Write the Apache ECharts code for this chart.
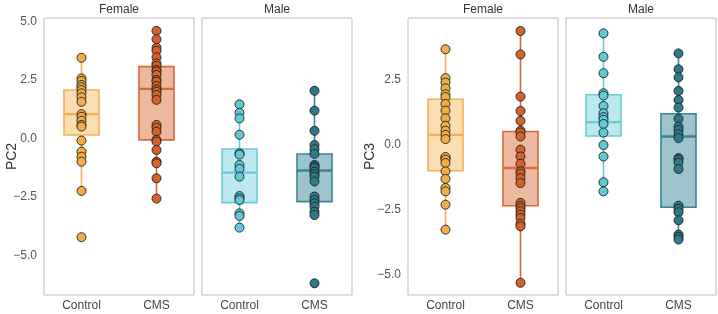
<!DOCTYPE html>
<html>
<head>
<meta charset="utf-8">
<script src="https://cdn.jsdelivr.net/npm/echarts@6/dist/echarts.min.js"></script>
<style>
  html, body { margin: 0; padding: 0; background: #fff; }
  #chart { width: 718px; height: 314px; }
</style>
</head>
<body>
<div id="chart"></div>
<script>
var categories = ['Control', 'CMS'];
var facets = ['Female', 'Male', 'Female', 'Male'];
var yTicks = [-5, -2.5, 0, 2.5, 5];

// PC2 points
var pc2FemaleControl = [3.44, 2.56, 2.45, 2.28, 2.18, 2.06, 1.92, 1.75, 1.56, 1.03, 0.92, 0.75, 0.57, 0.50, -0.10, -0.57, -0.79, -1.0, -2.25, -4.23];
var pc2FemaleCMS = [4.59, 4.23, 3.87, 3.74, 3.46, 3.20, 3.10, 2.92, 2.85, 2.71, 2.49, 2.42, 2.24, 2.09, 1.99, 1.85, 1.64, 0.57, 0.45, 0.28, -0.07, -0.14, -0.50, -1.0, -1.07, -1.71, -2.58];
var pc2MaleControl = [1.45, 1.09, 0.85, 0.15, -0.64, -0.70, -1.14, -1.31, -1.64, -2.47, -2.56, -2.64, -3.21, -3.32, -3.82];
var pc2MaleCMS = [2.03, 1.18, 0.32, -0.29, -0.47, -0.67, -1.14, -1.21, -1.28, -1.43, -1.53, -1.64, -1.85, -2.49, -2.64, -2.78, -2.92, -3.14, -3.28, -6.2];

// PC2 boxes: [lower whisker, Q1, median, Q3, upper whisker]
var pc2FemaleControlBox = [-2.25, 0.14, 1.03, 2.06, 3.44];
var pc2FemaleCMSBox = [-2.58, -0.07, 2.11, 3.06, 4.59];
var pc2MaleControlBox = [-3.82, -2.75, -1.47, -0.46, 1.45];
var pc2MaleCMSBox = [-3.28, -2.71, -1.38, -0.67, 2.03];

// PC3 points
var pc3FemaleControl = [3.67, 2.56, 2.39, 2.17, 1.94, 1.83, 1.57, 1.31, 1.02, 0.73, 0.54, 0.38, 0.22, -0.51, -0.47, -0.57, -0.70, -1.02, -1.31, -1.66, -1.79, -2.30, -3.26];
var pc3FemaleCMS = [4.37, 3.47, 1.85, 1.30, 0.92, 0.54, 0.47, 0.32, -0.19, -0.45, -0.73, -1.02, -1.11, -1.28, -1.47, -2.23, -2.34, -2.43, -2.55, -2.68, -2.81, -3.03, -3.13, -5.30];
var pc3MaleControl = [4.28, 3.38, 2.75, 1.98, 1.89, 1.49, 1.21, 1.06, 0.96, 0.80, 0.47, -0.01, -0.45, -1.44, -1.79];
var pc3MaleCMS = [3.51, 2.90, 2.59, 2.07, 1.72, 1.43, 1.0, 0.70, 0.57, 0.41, 0.26, -0.51, -0.57, -0.68, -0.93, -2.34, -2.46, -2.59, -2.90, -3.45, -3.54, -3.64];

// PC3 boxes
var pc3FemaleControlBox = [-3.26, -1.0, 0.38, 1.75, 3.67];
var pc3FemaleCMSBox = [-5.30, -2.34, -0.89, 0.51, 4.37];
var pc3MaleControlBox = [-1.79, 0.34, 0.87, 1.92, 4.28];
var pc3MaleCMSBox = [-3.64, -2.40, 0.32, 1.19, 3.51];

var colors = {
  Female: [
    { point: '#F2AE45', fill: 'rgba(242,174,69,0.42)', line: '#F2B155' },
    { point: '#D4622B', fill: 'rgba(212,98,43,0.45)', line: '#D6683A' }
  ],
  Male: [
    { point: '#5DCAD6', fill: 'rgba(93,202,214,0.42)', line: '#6ACBD6' },
    { point: '#2B7B8D', fill: 'rgba(43,123,141,0.45)', line: '#3A8595' }
  ]
};

var panels = [
  { points: [pc2FemaleControl, pc2FemaleCMS], boxes: [pc2FemaleControlBox, pc2FemaleCMSBox] },
  { points: [pc2MaleControl, pc2MaleCMS], boxes: [pc2MaleControlBox, pc2MaleCMSBox] },
  { points: [pc3FemaleControl, pc3FemaleCMS], boxes: [pc3FemaleControlBox, pc3FemaleCMSBox] },
  { points: [pc3MaleControl, pc3MaleCMS], boxes: [pc3MaleControlBox, pc3MaleCMSBox] }
];

var gridLefts = [44, 202, 408, 566];
var font = "'Liberation Sans', Arial, sans-serif";

function fmt(v) {
  return (v < 0 ? '\u2212' : '') + Math.abs(v).toFixed(1);
}

// box with whiskers, no caps (seaborn style)
function boxRenderer(pal) {
  return function (params, api) {
    var k = api.value(0);
    var lo = api.coord([k, api.value(1)]);
    var q1 = api.coord([k, api.value(2)]);
    var md = api.coord([k, api.value(3)]);
    var q3 = api.coord([k, api.value(4)]);
    var hi = api.coord([k, api.value(5)]);
    var x = lo[0], hw = 17.5;
    var ls = { stroke: pal.line, lineWidth: 1.6 };
    return {
      type: 'group',
      children: [
        { type: 'line', shape: { x1: x, y1: lo[1], x2: x, y2: q1[1] }, style: ls },
        { type: 'line', shape: { x1: x, y1: q3[1], x2: x, y2: hi[1] }, style: ls },
        { type: 'rect', shape: { x: x - hw, y: q3[1], width: hw * 2, height: q1[1] - q3[1] },
          style: { fill: pal.fill, stroke: pal.line, lineWidth: 1.6 } },
        { type: 'line', shape: { x1: x - hw, y1: md[1], x2: x + hw, y2: md[1] },
          style: { stroke: pal.line, lineWidth: 2.4 } }
      ]
    };
  };
}

var chart = echarts.init(document.getElementById('chart'));

var grids = [], xAxes = [], yAxes = [], series = [];
gridLefts.forEach(function (left, i) {
  grids.push({
    left: left, width: 150, top: 18, bottom: 19,
    outerBoundsMode: 'none', containLabel: false,
    show: true, borderColor: '#bdbdbd', borderWidth: 1, backgroundColor: '#fff'
  });
  xAxes.push({
    type: 'category', gridIndex: i, data: categories, position: 'bottom',
    axisLine: { show: false }, axisTick: { show: false },
    axisLabel: { color: '#444', fontSize: 12, fontFamily: font, margin: 5 },
    splitLine: { show: false }
  });
  xAxes.push({
    type: 'category', gridIndex: i, data: categories, position: 'top',
    axisLine: { show: false }, axisTick: { show: false }, axisLabel: { show: false },
    name: facets[i], nameLocation: 'middle', nameGap: 2, nameMoveOverlap: false,
    nameTextStyle: { color: '#333', fontSize: 12, fontFamily: font }
  });
  var isPC2 = i < 2;
  var showLabels = (i === 0 || i === 2);
  yAxes.push({
    type: 'value', gridIndex: i,
    min: isPC2 ? -6.7 : -5.77, max: isPC2 ? 5.14 : 4.87,
    axisLine: { show: false }, axisTick: { show: false }, splitLine: { show: false },
    axisLabel: {
      show: showLabels, customValues: isPC2 ? yTicks : yTicks.slice(0, 4),
      formatter: fmt, color: '#555', fontSize: 12, fontFamily: font, margin: 7
    },
    name: showLabels ? (isPC2 ? 'PC2' : 'PC3') : '',
    nameLocation: 'middle', nameGap: isPC2 ? 25 : 31, nameMoveOverlap: false,
    nameTextStyle: { color: '#333', fontSize: 14, fontFamily: font }
  });

  var pal = colors[facets[i]];
  var p = panels[i];
  p.boxes.forEach(function (b, k) {
    series.push({
      type: 'custom', xAxisIndex: i * 2, yAxisIndex: i, z: 2,
      renderItem: boxRenderer(pal[k]),
      encode: { x: 0, y: [1, 2, 3, 4, 5] },
      data: [[k].concat(b)],
      silent: true
    });
  });
  p.points.forEach(function (arr, k) {
    series.push({
      type: 'scatter', xAxisIndex: i * 2, yAxisIndex: i, z: 5,
      symbolSize: 9,
      itemStyle: { color: pal[k].point, borderColor: '#1e1e1e', borderWidth: 0.9, opacity: 1 },
      data: arr.map(function (v) { return [k, v]; })
    });
  });
});

chart.setOption({
  animation: false,
  grid: grids,
  xAxis: xAxes,
  yAxis: yAxes,
  series: series
});
</script>
</body>
</html>
